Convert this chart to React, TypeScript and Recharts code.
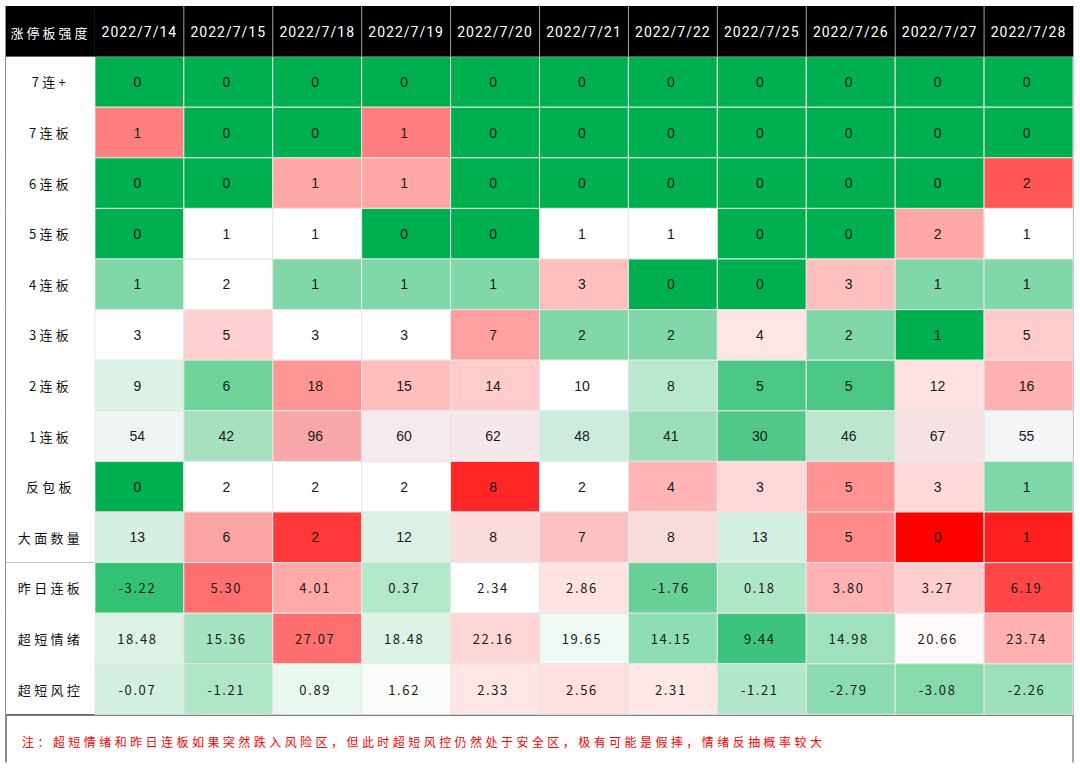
import { ReferenceLine, Scatter, ScatterChart, XAxis, YAxis } from "recharts";

const dates = [
  "2022/7/14", "2022/7/15", "2022/7/18", "2022/7/19", "2022/7/20", "2022/7/21",
  "2022/7/22", "2022/7/25", "2022/7/26", "2022/7/27", "2022/7/28",
];

const cornerLabel = "涨停板强度";

const rowLabels = [
  "7连+", "7连板", "6连板", "5连板", "4连板", "3连板", "2连板", "1连板",
  "反包板", "大面数量", "昨日连板", "超短情绪", "超短风控",
];

// count rows, then the three index rows (two decimals)
const values: number[][] = [
  [0, 0, 0, 0, 0, 0, 0, 0, 0, 0, 0],
  [1, 0, 0, 1, 0, 0, 0, 0, 0, 0, 0],
  [0, 0, 1, 1, 0, 0, 0, 0, 0, 0, 2],
  [0, 1, 1, 0, 0, 1, 1, 0, 0, 2, 1],
  [1, 2, 1, 1, 1, 3, 0, 0, 3, 1, 1],
  [3, 5, 3, 3, 7, 2, 2, 4, 2, 1, 5],
  [9, 6, 18, 15, 14, 10, 8, 5, 5, 12, 16],
  [54, 42, 96, 60, 62, 48, 41, 30, 46, 67, 55],
  [0, 2, 2, 2, 8, 2, 4, 3, 5, 3, 1],
  [13, 6, 2, 12, 8, 7, 8, 13, 5, 0, 1],
  [-3.22, 5.3, 4.01, 0.37, 2.34, 2.86, -1.76, 0.18, 3.8, 3.27, 6.19],
  [18.48, 15.36, 27.07, 18.48, 22.16, 19.65, 14.15, 9.44, 14.98, 20.66, 23.74],
  [-0.07, -1.21, 0.89, 1.62, 2.33, 2.56, 2.31, -1.21, -2.79, -3.08, -2.26],
];

const decimalRows = 3;

const note =
  "注：超短情绪和昨日连板如果突然跌入风险区，但此时超短风控仍然处于安全区，极有可能是假摔，情绪反抽概率较大";

// conditional-format fills, per cell
const G = "#00B050";
const W = "#FFFFFF";
const L = "#80D7A7";
const fills: string[][] = [
  [G, G, G, G, G, G, G, G, G, G, G],
  ["#FF7F7F", G, G, "#FF7F7F", G, G, G, G, G, G, G],
  [G, G, "#FFA7A7", "#FFA7A7", G, G, G, G, G, G, "#FF5555"],
  [G, W, W, G, G, W, W, G, G, "#FFA8A8", W],
  [L, W, L, L, L, "#FFBFBF", G, G, "#FFBFBF", L, L],
  [W, "#FFD1D1", W, W, "#FFA0A0", L, L, "#FFE6E6", L, G, "#FFCCCC"],
  ["#DCF2E5", "#6FD39C", "#FF9595", "#FFBDBD", "#FFCBCB", W, "#B8E8CD", "#4BC785", "#4BC785", "#FFE3E3", "#FFB0B0"],
  ["#EFF5F3", "#A5E0C0", "#F7A7A7", "#F5EBEE", "#F5E8EA", "#CDEBDC", "#9CDDBA", "#52C98A", "#BDE5D0", "#F5E2E3", "#F4F5F7"],
  [G, W, W, W, "#FF2626", W, "#FFB5B5", "#FFD9D9", "#FF9393", "#FFD9D9", L],
  ["#D5EFE0", "#FAA5A5", "#FF3838", "#DCF1E5", "#FADCDC", "#FCC1C1", "#FADCDC", "#D5F0E0", "#FF8B8B", "#FF0000", "#FF1F1F"],
  ["#33C173", "#FF6F6F", "#FFA9A9", "#B3E8CB", W, "#FFE3E3", "#66D096", "#B0E6C8", "#FFB2B2", "#FFCFCF", "#FF4747"],
  ["#DCF3E6", "#A6E3C3", "#FF6F6F", "#DCF3E6", "#FFD6D6", "#F0FAF4", "#8EDDB3", "#3DC47C", "#9EE1BD", "#FFFAFA", "#FFB1B1"],
  ["#D3F0E0", "#B0E6C8", "#EAF7EF", "#FBFDFB", "#FFE6E6", "#FFE0E0", "#FFE8E8", "#B3E7CB", "#8DDCB1", "#88DAAD", "#9CE0BA"],
];

const WIDTH = 1080;
const HEIGHT = 771;
const MARGIN = { top: 6, right: 7, bottom: 6, left: 6 };
const NCOLS = 12;
const NROWS = 15;
const CW = (WIDTH - MARGIN.left - MARGIN.right) / NCOLS;
const RH = (HEIGHT - MARGIN.top - MARGIN.bottom) / NROWS;
const CJK = '"Noto Sans CJK SC", sans-serif';

type Cell = { x: number; y: number; text: string; fill: string };

const headerCells: Cell[] = [
  { x: 0, y: 0, text: cornerLabel, fill: "#000" },
  ...dates.map((d, i) => ({ x: i + 1, y: 0, text: d, fill: "#000" })),
];

const labelCells: Cell[] = rowLabels.map((l, r) => ({ x: 0, y: r + 1, text: l, fill: "#fff" }));

const dataCells: Cell[] = values.flatMap((row, r) =>
  row.map((v, c) => ({
    x: c + 1,
    y: r + 1,
    text: r >= values.length - decimalRows ? v.toFixed(2) : String(v),
    fill: fills[r][c],
  }))
);

const noteCells = [{ x: 0, y: 14, text: note, fill: "#fff" }];

const HeaderShape = (p: any) => {
  const { cx, cy, payload } = p;
  const corner = payload.x === 0;
  return (
    <g>
      <rect x={cx - CW / 2} y={cy - RH / 2} width={CW} height={RH} fill="#000" />
      {payload.x > 1 && (
        <line x1={cx - CW / 2} x2={cx - CW / 2} y1={cy - RH / 2} y2={cy + RH / 2} stroke="#9a9a9a" strokeWidth={1} />
      )}
      <text
        x={cx}
        y={cy + 1}
        textAnchor="middle"
        dominantBaseline="central"
        fill="#fff"
        fontSize={corner ? 13 : 14}
        letterSpacing={corner ? 3 : 1}
        fontFamily={corner ? CJK : "Roboto, sans-serif"}
      >
        {payload.text}
      </text>
    </g>
  );
};

const LabelShape = (p: any) => {
  const { cx, cy, payload } = p;
  return (
    <g>
      <rect x={cx - CW / 2} y={cy - RH / 2} width={CW} height={RH} fill="#fff" />
      <text x={cx} y={cy} textAnchor="middle" dominantBaseline="central" fill="#111" fontSize={13} letterSpacing={3.3} fontFamily={CJK}>
        {payload.text}
      </text>
    </g>
  );
};

const DataShape = (p: any) => {
  const { cx, cy, payload } = p;
  const dec = payload.y > values.length - decimalRows;
  return (
    <g>
      <rect x={cx - CW / 2} y={cy - RH / 2} width={CW} height={RH} fill={payload.fill} stroke="#e6e6e6" strokeWidth={1} />
      <text
        x={cx - 2}
        y={cy}
        textAnchor="middle"
        dominantBaseline="central"
        fill="#1a1a1a"
        fontSize={dec ? 13 : 14}
        letterSpacing={dec ? 1.6 : 0}
        fontFamily={dec ? CJK : '"Liberation Sans", Arial, sans-serif'}
      >
        {payload.text}
      </text>
    </g>
  );
};

const NoteShape = (p: any) => {
  const { cx, cy, payload } = p;
  return (
    <text x={cx - CW / 2 + 16} y={cy + 2} dominantBaseline="central" fill="#FF0000" fontSize={12} letterSpacing={3.45} fontFamily={CJK}>
      {payload.text}
    </text>
  );
};

export default function App() {
  return (
    <div style={{ position: "absolute", left: 0, top: 0, background: "#fff" }}>
      <ScatterChart width={WIDTH} height={HEIGHT} margin={MARGIN}>
        <XAxis type="number" dataKey="x" domain={[-0.5, NCOLS - 0.5]} hide />
        <YAxis type="number" dataKey="y" domain={[-0.5, NROWS - 0.5]} reversed hide />
        <Scatter data={dataCells} shape={DataShape} isAnimationActive={false} />
        <Scatter data={labelCells} shape={LabelShape} isAnimationActive={false} />
        <Scatter data={headerCells} shape={HeaderShape} isAnimationActive={false} />
        <Scatter data={noteCells} shape={NoteShape} isAnimationActive={false} />
        <ReferenceLine segment={[{ x: 0.5, y: 0.5 }, { x: 0.5, y: 13.5 }]} stroke="#000" strokeWidth={2} />
        <ReferenceLine segment={[{ x: -0.5, y: 10.5 }, { x: 11.5, y: 10.5 }]} stroke="#000" strokeWidth={2} />
        <ReferenceLine segment={[{ x: -0.5, y: 13.5 }, { x: 11.5, y: 13.5 }]} stroke="#000" strokeWidth={2} />
        <ReferenceLine segment={[{ x: -0.5, y: -0.5 }, { x: -0.5, y: 14.45 }]} stroke="#666" strokeWidth={1.5} />
        <ReferenceLine segment={[{ x: 11.5, y: -0.5 }, { x: 11.5, y: 14.45 }]} stroke="#888" strokeWidth={1.5} />
      </ScatterChart>
    </div>
  );
}
